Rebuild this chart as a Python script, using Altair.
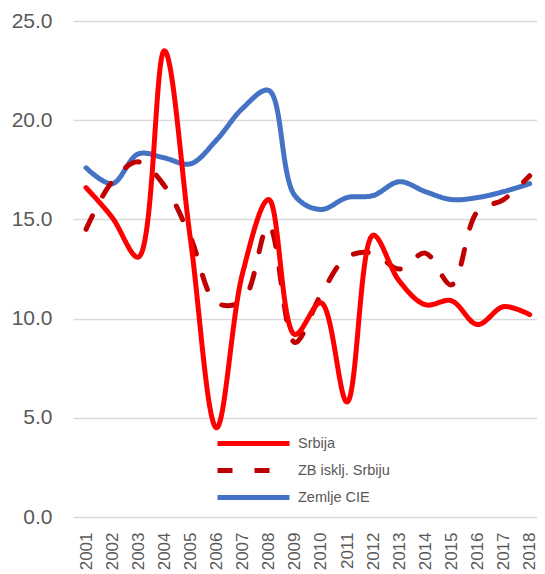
import altair as alt
import pandas as pd

years = list(range(2001, 2019))
srbija = [16.6, 15.1, 13.1, 23.5, 14.0, 4.5, 12.3, 16.0, 9.2, 10.8, 5.8, 14.2, 11.9, 10.7, 10.9, 9.7, 10.6, 10.2]
zb = [14.5, 16.9, 17.9, 16.7, 14.1, 10.8, 10.9, 14.7, 8.8, 11.2, 13.1, 13.3, 12.5, 13.3, 11.7, 15.4, 16.0, 17.2]
cie = [17.6, 16.8, 18.3, 18.1, 17.8, 19.0, 20.6, 21.5, 16.2, 15.5, 16.1, 16.2, 16.9, 16.4, 16.0, 16.1, 16.4, 16.8]

series_names = ["Srbija", "ZB isklj. Srbiju", "Zemlje CIE"]
colors = ["#FF0000", "#C00000", "#4472C4"]
dashes = [[1, 0], [15, 22], [1, 0]]

rows = []
# draw order: CIE first (bottom), then ZB, then Srbija on top
for name, vals in [("Zemlje CIE", cie), ("ZB isklj. Srbiju", zb), ("Srbija", srbija)]:
    for y, v in zip(years, vals):
        rows.append({"year": y, "value": v, "series": name})
df = pd.DataFrame(rows)

legend_opts = dict(orient="none", legendX=166, legendY=408, title=None,
                   symbolType="M-3,0H3", symbolSize=576, symbolStrokeWidth=5,
                   labelFontSize=14.5, labelColor="#595959",
                   labelFont="Liberation Sans", labelOffset=30,
                   padding=0, rowPadding=2)

chart = alt.Chart(df).mark_line(
    interpolate="catmull-rom", strokeWidth=5, strokeCap="round", strokeJoin="round"
).encode(
    x=alt.X("year:Q",
            scale=alt.Scale(domain=[2000.5, 2018.28], nice=False, zero=False),
            axis=alt.Axis(values=years, format="d", labelAngle=270, labelAlign="right",
                          labelBaseline="middle", labelPadding=15, labelFontSize=17,
                          labelColor="#595959", labelFont="Liberation Sans",
                          grid=False, ticks=False, domain=False, title=None,
                          labelOverlap=False, labelBound=False, labelFlush=False)),
    y=alt.Y("value:Q",
            scale=alt.Scale(domain=[0, 25], nice=False),
            axis=alt.Axis(values=[0, 5, 10, 15, 20, 25], format=".1f", labelFontSize=21,
                          labelColor="#595959", labelFont="Liberation Sans", labelPadding=21,
                          ticks=False, domain=False, title=None, gridColor="#D9D9D9",
                          gridWidth=1.3)),
    color=alt.Color("series:N",
                    scale=alt.Scale(domain=series_names, range=colors),
                    legend=alt.Legend(**legend_opts)),
    strokeDash=alt.StrokeDash("series:N",
                              scale=alt.Scale(domain=series_names, range=dashes),
                              legend=alt.Legend(**legend_opts)),
).properties(
    width=464, height=496,
    autosize=alt.AutoSizeParams(type="none"),
    padding={"left": 65, "top": 13, "right": 0, "bottom": 57},
).configure_view(stroke=None)

chart.save("out.html", embed_options={"renderer": "svg", "actions": False})
